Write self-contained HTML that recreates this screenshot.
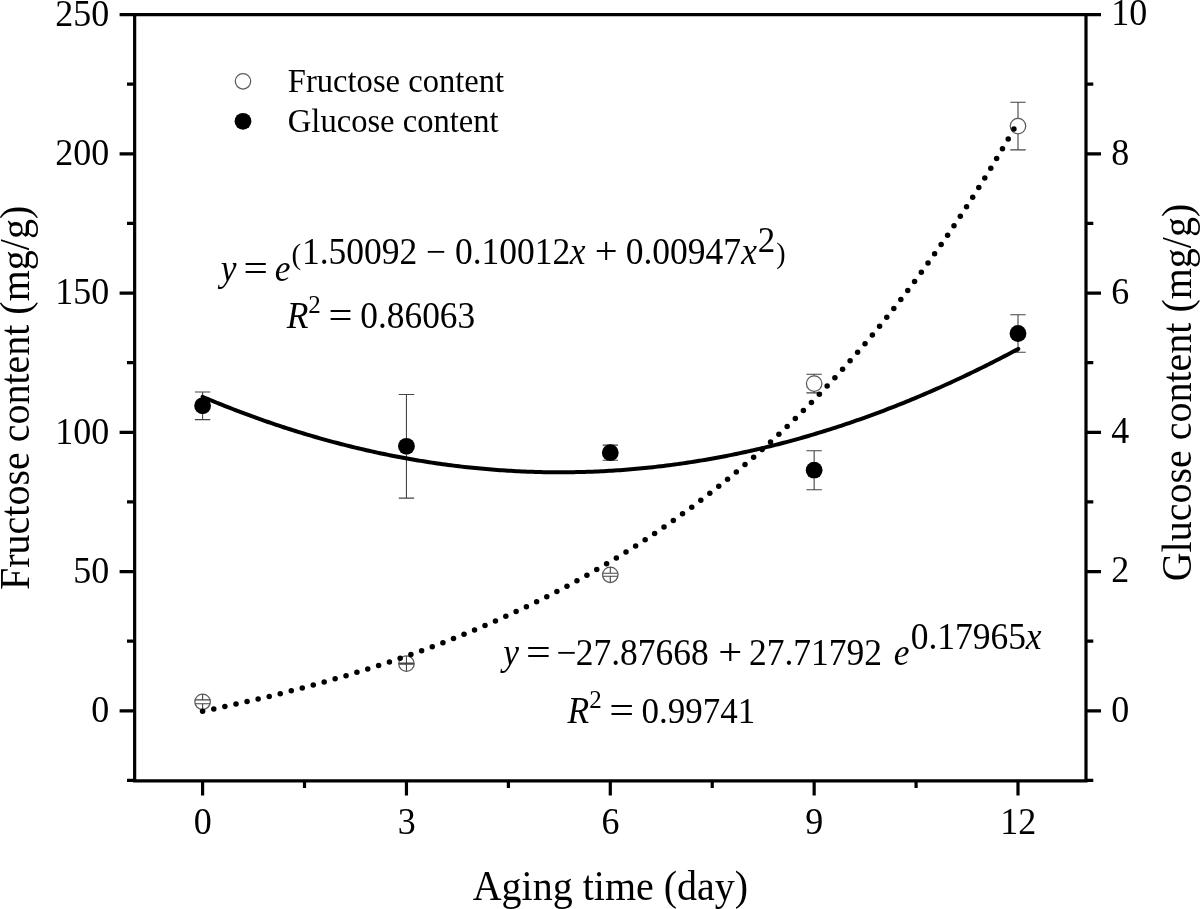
<!DOCTYPE html>
<html><head><meta charset="utf-8"><style>
html,body{margin:0;padding:0;background:#fff;}
svg{display:block;}
text{font-family:"Liberation Serif","Times New Roman",serif;fill:#000;}
</style></head><body>
<svg width="1200" height="909" viewBox="0 0 1200 909">
<path d="M133.05,14.60H1087.60M133.05,780.90H1087.60M134.65,14.60V780.90M1086.00,14.60V780.90M134.65,710.80H119.60M134.65,571.56H119.60M134.65,432.32H119.60M134.65,293.08H119.60M134.65,153.84H119.60M134.65,14.60H119.60M134.65,780.42H127.00M134.65,641.18H127.00M134.65,501.94H127.00M134.65,362.70H127.00M134.65,223.46H127.00M134.65,84.22H127.00M1086.00,710.80H1101.00M1086.00,571.56H1101.00M1086.00,432.32H1101.00M1086.00,293.08H1101.00M1086.00,153.84H1101.00M1086.00,14.60H1101.00M1086.00,780.42H1093.30M1086.00,641.18H1093.30M1086.00,501.94H1093.30M1086.00,362.70H1093.30M1086.00,223.46H1093.30M1086.00,84.22H1093.30M202.60,780.90V795.50M406.45,780.90V795.50M610.30,780.90V795.50M814.15,780.90V795.50M1018.00,780.90V795.50M304.52,780.90V788.00M508.38,780.90V788.00M712.23,780.90V788.00M916.08,780.90V788.00" stroke="#000" stroke-width="3.2" fill="none"/><g font-size="36"><text transform="translate(109.20,722.00) scale(1,1.045)" text-anchor="end">0</text><text transform="translate(109.20,582.76) scale(1,1.045)" text-anchor="end">50</text><text transform="translate(109.20,443.52) scale(1,1.045)" text-anchor="end">100</text><text transform="translate(109.20,304.28) scale(1,1.045)" text-anchor="end">150</text><text transform="translate(109.20,165.04) scale(1,1.045)" text-anchor="end">200</text><text transform="translate(109.20,25.80) scale(1,1.045)" text-anchor="end">250</text><text transform="translate(1111.20,721.50) scale(1,1.045)">0</text><text transform="translate(1111.20,582.26) scale(1,1.045)">2</text><text transform="translate(1111.20,443.02) scale(1,1.045)">4</text><text transform="translate(1111.20,303.78) scale(1,1.045)">6</text><text transform="translate(1111.20,164.54) scale(1,1.045)">8</text><text transform="translate(1111.20,25.30) scale(1,1.045)">10</text><text transform="translate(202.80,833.80) scale(1,1.045)" text-anchor="middle">0</text><text transform="translate(406.65,833.80) scale(1,1.045)" text-anchor="middle">3</text><text transform="translate(610.50,833.80) scale(1,1.045)" text-anchor="middle">6</text><text transform="translate(814.35,833.80) scale(1,1.045)" text-anchor="middle">9</text><text transform="translate(1018.20,833.80) scale(1,1.045)" text-anchor="middle">12</text></g><text transform="translate(610.40,899.60) scale(1,1.045)" font-size="40" text-anchor="middle">Aging time (day)</text><text transform="translate(29.00,397.90) rotate(-90) scale(1,1.045)" font-size="40" text-anchor="middle">Fructose content (mg/g)</text><text transform="translate(1191.00,392.50) rotate(-90) scale(1,1.045)" font-size="40" text-anchor="middle">Glucose content (mg/g)</text><circle cx="243" cy="81.3" r="7.7" fill="#fff" stroke="#5a5a5a" stroke-width="1.25"/><circle cx="243" cy="121.3" r="8.4" fill="#000"/><text transform="translate(287.80,92.00) scale(1,1.045)" font-size="32.6">Fructose content</text><text transform="translate(287.80,132.20) scale(1,1.045)" font-size="32.6">Glucose content</text><path d="M194.90,392.00H210.30M194.90,419.60H210.30M202.60,397.40V392.00M202.60,414.20V419.60" stroke="#444" stroke-width="1.1" fill="none"/><circle cx="202.60" cy="405.80" r="8.4" fill="#000"/><path d="M398.75,394.50H414.15M398.75,498.10H414.15M406.45,437.90V394.50M406.45,454.70V498.10" stroke="#444" stroke-width="1.1" fill="none"/><circle cx="406.45" cy="446.30" r="8.4" fill="#000"/><path d="M602.60,445.10H618.00M602.60,460.30H618.00M610.30,444.30V445.10M610.30,461.10V460.30" stroke="#444" stroke-width="1.1" fill="none"/><circle cx="610.30" cy="452.70" r="8.4" fill="#000"/><path d="M806.45,450.70H821.85M806.45,489.70H821.85M814.15,461.80V450.70M814.15,478.60V489.70" stroke="#444" stroke-width="1.1" fill="none"/><circle cx="814.15" cy="470.20" r="8.4" fill="#000"/><path d="M1010.30,314.75H1025.70M1010.30,352.25H1025.70M1018.00,325.10V314.75M1018.00,341.90V352.25" stroke="#444" stroke-width="1.1" fill="none"/><circle cx="1018.00" cy="333.50" r="8.4" fill="#000"/><path d="M194.90,699.90H210.30M194.90,703.70H210.30M202.60,694.05V699.90M202.60,709.55V703.70" stroke="#444" stroke-width="1.1" fill="none"/><circle cx="202.60" cy="701.80" r="7.75" fill="none" stroke="#5a5a5a" stroke-width="1.25"/><path d="M398.75,663.10H414.15M398.75,664.30H414.15M406.45,655.95V663.10M406.45,671.45V664.30" stroke="#444" stroke-width="1.1" fill="none"/><circle cx="406.45" cy="663.70" r="7.75" fill="none" stroke="#5a5a5a" stroke-width="1.25"/><path d="M602.60,573.30H618.00M602.60,576.30H618.00M610.30,567.05V573.30M610.30,582.55V576.30" stroke="#444" stroke-width="1.1" fill="none"/><circle cx="610.30" cy="574.80" r="7.75" fill="none" stroke="#5a5a5a" stroke-width="1.25"/><path d="M806.45,374.30H821.85M806.45,392.90H821.85M814.15,375.85V374.30M814.15,391.35V392.90" stroke="#444" stroke-width="1.1" fill="none"/><circle cx="814.15" cy="383.60" r="7.75" fill="none" stroke="#5a5a5a" stroke-width="1.25"/><path d="M1010.30,102.30H1025.70M1010.30,149.90H1025.70M1018.00,118.35V102.30M1018.00,133.85V149.90" stroke="#444" stroke-width="1.1" fill="none"/><circle cx="1018.00" cy="126.10" r="7.75" fill="none" stroke="#5a5a5a" stroke-width="1.25"/><path d="M202.60,396.84L205.33,397.99L208.06,399.13L210.78,400.26L213.51,401.38L216.24,402.50L218.97,403.60L221.70,404.70L224.42,405.79L227.15,406.87L229.88,407.94L232.61,409.00L235.34,410.05L238.07,411.10L240.79,412.13L243.52,413.16L246.25,414.18L248.98,415.18L251.71,416.18L254.43,417.18L257.16,418.16L259.89,419.13L262.62,420.09L265.35,421.05L268.07,422.00L270.80,422.93L273.53,423.86L276.26,424.78L278.99,425.69L281.71,426.60L284.44,427.49L287.17,428.37L289.90,429.25L292.63,430.12L295.36,430.97L298.08,431.82L300.81,432.66L303.54,433.50L306.27,434.32L309.00,435.13L311.72,435.94L314.45,436.73L317.18,437.52L319.91,438.30L322.64,439.07L325.36,439.83L328.09,440.58L330.82,441.32L333.55,442.06L336.28,442.78L339.00,443.50L341.73,444.21L344.46,444.91L347.19,445.60L349.92,446.28L352.65,446.95L355.37,447.61L358.10,448.27L360.83,448.92L363.56,449.55L366.29,450.18L369.01,450.80L371.74,451.41L374.47,452.01L377.20,452.61L379.93,453.19L382.65,453.77L385.38,454.33L388.11,454.89L390.84,455.44L393.57,455.98L396.29,456.51L399.02,457.03L401.75,457.55L404.48,458.05L407.21,458.55L409.94,459.03L412.66,459.51L415.39,459.98L418.12,460.44L420.85,460.89L423.58,461.34L426.30,461.77L429.03,462.20L431.76,462.61L434.49,463.02L437.22,463.42L439.94,463.81L442.67,464.19L445.40,464.57L448.13,464.93L450.86,465.29L453.58,465.63L456.31,465.97L459.04,466.30L461.77,466.62L464.50,466.93L467.23,467.23L469.95,467.52L472.68,467.81L475.41,468.08L478.14,468.35L480.87,468.61L483.59,468.86L486.32,469.10L489.05,469.33L491.78,469.56L494.51,469.77L497.23,469.98L499.96,470.17L502.69,470.36L505.42,470.54L508.15,470.71L510.87,470.87L513.60,471.02L516.33,471.17L519.06,471.30L521.79,471.43L524.52,471.55L527.24,471.66L529.97,471.76L532.70,471.85L535.43,471.93L538.16,472.00L540.88,472.07L543.61,472.13L546.34,472.17L549.07,472.21L551.80,472.24L554.52,472.26L557.25,472.27L559.98,472.28L562.71,472.27L565.44,472.26L568.16,472.24L570.89,472.20L573.62,472.16L576.35,472.12L579.08,472.06L581.81,471.99L584.53,471.92L587.26,471.83L589.99,471.74L592.72,471.64L595.45,471.53L598.17,471.41L600.90,471.28L603.63,471.14L606.36,471.00L609.09,470.84L611.81,470.68L614.54,470.51L617.27,470.33L620.00,470.14L622.73,469.94L625.45,469.73L628.18,469.52L630.91,469.29L633.64,469.06L636.37,468.82L639.09,468.57L641.82,468.31L644.55,468.04L647.28,467.76L650.01,467.48L652.74,467.18L655.46,466.88L658.19,466.57L660.92,466.25L663.65,465.92L666.38,465.58L669.10,465.23L671.83,464.88L674.56,464.51L677.29,464.14L680.02,463.76L682.74,463.37L685.47,462.97L688.20,462.56L690.93,462.14L693.66,461.72L696.38,461.28L699.11,460.84L701.84,460.39L704.57,459.93L707.30,459.46L710.03,458.98L712.75,458.50L715.48,458.00L718.21,457.50L720.94,456.98L723.67,456.46L726.39,455.93L729.12,455.39L731.85,454.84L734.58,454.29L737.31,453.72L740.03,453.15L742.76,452.57L745.49,451.97L748.22,451.37L750.95,450.77L753.67,450.15L756.40,449.52L759.13,448.89L761.86,448.24L764.59,447.59L767.32,446.93L770.04,446.26L772.77,445.58L775.50,444.89L778.23,444.20L780.96,443.49L783.68,442.78L786.41,442.06L789.14,441.33L791.87,440.59L794.60,439.84L797.32,439.08L800.05,438.32L802.78,437.54L805.51,436.76L808.24,435.97L810.96,435.17L813.69,434.36L816.42,433.54L819.15,432.71L821.88,431.88L824.61,431.03L827.33,430.18L830.06,429.32L832.79,428.45L835.52,427.57L838.25,426.68L840.97,425.78L843.70,424.88L846.43,423.97L849.16,423.04L851.89,422.11L854.61,421.17L857.34,420.22L860.07,419.27L862.80,418.30L865.53,417.33L868.25,416.34L870.98,415.35L873.71,414.35L876.44,413.34L879.17,412.32L881.90,411.30L884.62,410.26L887.35,409.22L890.08,408.16L892.81,407.10L895.54,406.03L898.26,404.95L900.99,403.87L903.72,402.77L906.45,401.67L909.18,400.55L911.90,399.43L914.63,398.30L917.36,397.16L920.09,396.01L922.82,394.85L925.54,393.69L928.27,392.51L931.00,391.33L933.73,390.14L936.46,388.94L939.19,387.73L941.91,386.51L944.64,385.29L947.37,384.05L950.10,382.81L952.83,381.55L955.55,380.29L958.28,379.02L961.01,377.75L963.74,376.46L966.47,375.16L969.19,373.86L971.92,372.55L974.65,371.22L977.38,369.89L980.11,368.55L982.83,367.21L985.56,365.85L988.29,364.48L991.02,363.11L993.75,361.73L996.48,360.34L999.20,358.94L1001.93,357.53L1004.66,356.11L1007.39,354.69L1010.12,353.25L1012.84,351.81L1015.57,350.36L1018.30,348.90" stroke="#000" stroke-width="4" fill="none" stroke-linecap="round" stroke-linejoin="round"/><g fill="#000"><circle cx="202.60" cy="711.24" r="2.75"/><circle cx="213.77" cy="708.93" r="2.75"/><circle cx="224.86" cy="706.56" r="2.75"/><circle cx="235.99" cy="704.12" r="2.75"/><circle cx="247.08" cy="701.61" r="2.75"/><circle cx="258.13" cy="699.04" r="2.75"/><circle cx="269.22" cy="696.38" r="2.75"/><circle cx="280.23" cy="693.66" r="2.75"/><circle cx="291.27" cy="690.85" r="2.75"/><circle cx="302.24" cy="687.98" r="2.75"/><circle cx="313.25" cy="685.01" r="2.75"/><circle cx="324.18" cy="681.98" r="2.75"/><circle cx="335.14" cy="678.85" r="2.75"/><circle cx="346.03" cy="675.65" r="2.75"/><circle cx="356.91" cy="672.36" r="2.75"/><circle cx="367.76" cy="668.98" r="2.75"/><circle cx="378.60" cy="665.50" r="2.75"/><circle cx="389.41" cy="661.94" r="2.75"/><circle cx="400.17" cy="658.29" r="2.75"/><circle cx="410.89" cy="654.55" r="2.75"/><circle cx="421.62" cy="650.70" r="2.75"/><circle cx="432.26" cy="646.77" r="2.75"/><circle cx="442.90" cy="642.73" r="2.75"/><circle cx="453.50" cy="638.59" r="2.75"/><circle cx="464.02" cy="634.36" r="2.75"/><circle cx="474.54" cy="630.02" r="2.75"/><circle cx="485.01" cy="625.57" r="2.75"/><circle cx="495.45" cy="621.01" r="2.75"/><circle cx="505.81" cy="616.36" r="2.75"/><circle cx="516.12" cy="611.61" r="2.75"/><circle cx="526.40" cy="606.74" r="2.75"/><circle cx="536.63" cy="601.75" r="2.75"/><circle cx="546.78" cy="596.68" r="2.75"/><circle cx="556.89" cy="591.48" r="2.75"/><circle cx="566.96" cy="586.17" r="2.75"/><circle cx="576.95" cy="580.75" r="2.75"/><circle cx="586.90" cy="575.22" r="2.75"/><circle cx="596.76" cy="569.58" r="2.75"/><circle cx="606.59" cy="563.83" r="2.75"/><circle cx="616.33" cy="557.96" r="2.75"/><circle cx="626.00" cy="552.00" r="2.75"/><circle cx="635.62" cy="545.91" r="2.75"/><circle cx="645.16" cy="539.71" r="2.75"/><circle cx="654.62" cy="533.42" r="2.75"/><circle cx="663.99" cy="527.01" r="2.75"/><circle cx="673.33" cy="520.48" r="2.75"/><circle cx="682.54" cy="513.87" r="2.75"/><circle cx="691.72" cy="507.13" r="2.75"/><circle cx="700.81" cy="500.29" r="2.75"/><circle cx="709.82" cy="493.34" r="2.75"/><circle cx="718.75" cy="486.30" r="2.75"/><circle cx="727.55" cy="479.18" r="2.75"/><circle cx="736.32" cy="471.93" r="2.75"/><circle cx="745.00" cy="464.58" r="2.75"/><circle cx="753.61" cy="457.13" r="2.75"/><circle cx="762.13" cy="449.58" r="2.75"/><circle cx="770.53" cy="441.97" r="2.75"/><circle cx="778.88" cy="434.23" r="2.75"/><circle cx="787.16" cy="426.39" r="2.75"/><circle cx="795.31" cy="418.50" r="2.75"/><circle cx="803.39" cy="410.52" r="2.75"/><circle cx="811.42" cy="402.41" r="2.75"/><circle cx="819.33" cy="394.26" r="2.75"/><circle cx="827.16" cy="386.01" r="2.75"/><circle cx="834.90" cy="377.69" r="2.75"/><circle cx="842.57" cy="369.28" r="2.75"/><circle cx="850.11" cy="360.84" r="2.75"/><circle cx="857.61" cy="352.27" r="2.75"/><circle cx="865.03" cy="343.63" r="2.75"/><circle cx="872.37" cy="334.92" r="2.75"/><circle cx="879.59" cy="326.18" r="2.75"/><circle cx="886.76" cy="317.33" r="2.75"/><circle cx="893.81" cy="308.46" r="2.75"/><circle cx="900.83" cy="299.48" r="2.75"/><circle cx="907.76" cy="290.44" r="2.75"/><circle cx="914.57" cy="281.39" r="2.75"/><circle cx="921.33" cy="272.24" r="2.75"/><circle cx="928.02" cy="263.03" r="2.75"/><circle cx="934.63" cy="253.77" r="2.75"/><circle cx="941.15" cy="244.47" r="2.75"/><circle cx="947.59" cy="235.13" r="2.75"/><circle cx="953.99" cy="225.69" r="2.75"/><circle cx="960.31" cy="216.21" r="2.75"/><circle cx="966.55" cy="206.69" r="2.75"/><circle cx="972.70" cy="197.14" r="2.75"/><circle cx="978.78" cy="187.57" r="2.75"/><circle cx="984.81" cy="177.91" r="2.75"/><circle cx="990.77" cy="168.23" r="2.75"/><circle cx="996.64" cy="158.52" r="2.75"/><circle cx="1002.47" cy="148.74" r="2.75"/><circle cx="1008.22" cy="138.94" r="2.75"/><circle cx="1013.92" cy="129.07" r="2.75"/></g><text transform="translate(220.70,280.60) scale(1,1.045)" font-size="35.5" font-style="italic">y</text><text transform="translate(255.70,280.60) scale(1.22,1.045)" font-size="35.5" text-anchor="middle">=</text><text transform="translate(274.75,280.60) scale(1,1.045)" font-size="35.5" font-style="italic">e</text><text transform="translate(291.40,263.80) scale(1,1.045)" font-size="29">(</text><text transform="translate(301.90,263.80) scale(1,1.045)" font-size="35.5">1.50092 − 0.10012</text><text transform="translate(569.80,263.80) scale(1,1.045)" font-size="35.5" font-style="italic">x</text><text transform="translate(606.25,263.80) scale(1.14,1.045)" font-size="35.5" text-anchor="middle">+</text><text transform="translate(625.70,263.80) scale(1,1.045)" font-size="35.5">0.00947</text><text transform="translate(741.20,263.80) scale(1,1.045)" font-size="35.5" font-style="italic">x</text><text transform="translate(757.70,251.60) scale(1,1.045)" font-size="35">2</text><text transform="translate(776.30,263.40) scale(1,1.045)" font-size="28">)</text><text transform="translate(286.70,327.50) scale(1,1.045)" font-size="35.5" font-style="italic">R</text><text transform="translate(308.30,313.30) scale(1,1.045)" font-size="25">2</text><text transform="translate(340.40,327.50) scale(1.2,1.045)" font-size="35.5" text-anchor="middle">=</text><text transform="translate(360.30,327.50) scale(1,1.045)" font-size="35.35">0.86063</text><text transform="translate(503.30,665.00) scale(1,1.045)" font-size="35.5" font-style="italic">y</text><text transform="translate(538.30,665.00) scale(1.24,1.045)" font-size="35.5" text-anchor="middle">=</text><text transform="translate(556.60,665.00) scale(1,1.045)" font-size="35.5">−</text><text transform="translate(575.70,665.00) scale(1,1.045)" font-size="35.5">27.87668</text><text transform="translate(730.25,665.00) scale(1.2,1.045)" font-size="35.5" text-anchor="middle">+</text><text transform="translate(749.00,665.00) scale(1,1.045)" font-size="35.5">27.71792</text><text transform="translate(893.65,665.00) scale(1,1.045)" font-size="35.5" font-style="italic">e</text><text transform="translate(910.70,649.20) scale(1,1.045)" font-size="35.5">0.17965</text><text transform="translate(1025.70,649.20) scale(1,1.045)" font-size="35.5" font-style="italic">x</text><text transform="translate(567.50,722.50) scale(1,1.045)" font-size="35.5" font-style="italic">R</text><text transform="translate(589.20,708.30) scale(1,1.045)" font-size="25">2</text><text transform="translate(621.70,722.50) scale(1.24,1.045)" font-size="35.5" text-anchor="middle">=</text><text transform="translate(641.50,722.50) scale(1,1.045)" font-size="35.0">0.99741</text>
</svg>
</body></html>
